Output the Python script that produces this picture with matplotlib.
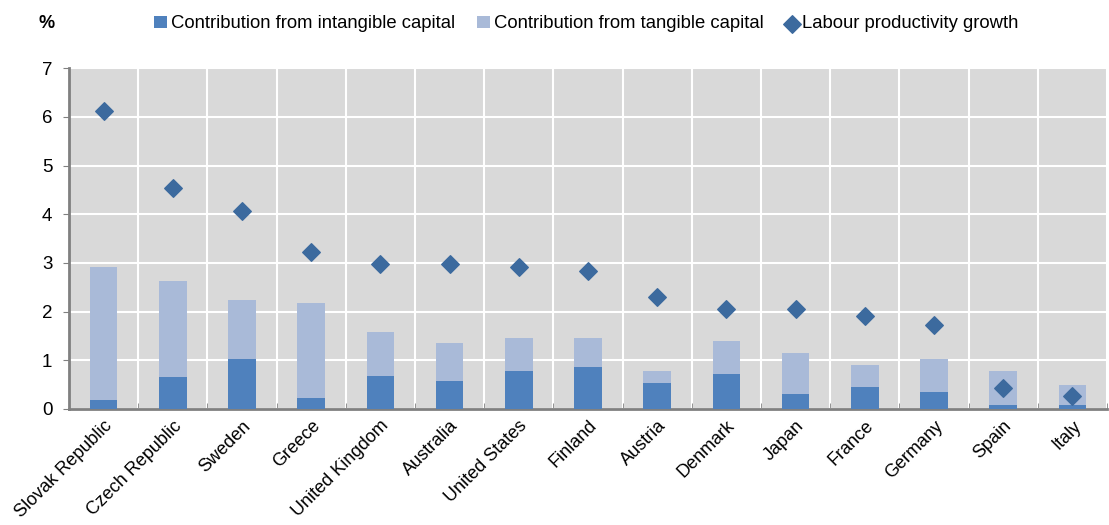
import matplotlib
matplotlib.use('Agg')
import matplotlib.pyplot as plt
import numpy as np

plt.rcParams['font.family'] = ['Liberation Sans', 'DejaVu Sans']

# Data
countries = ['Slovak Republic', 'Czech Republic', 'Sweden', 'Greece', 'United Kingdom',
             'Australia', 'United States', 'Finland', 'Austria', 'Denmark', 'Japan',
             'France', 'Germany', 'Spain', 'Italy']
intangible = [0.18, 0.65, 1.02, 0.22, 0.68, 0.57, 0.79, 0.87, 0.53, 0.71, 0.30, 0.46, 0.34, 0.09, 0.09]
tangible = [2.73, 1.98, 1.21, 1.95, 0.90, 0.78, 0.66, 0.59, 0.24, 0.69, 0.84, 0.44, 0.68, 0.68, 0.40]
productivity = [6.12, 4.55, 4.07, 3.23, 2.98, 2.98, 2.92, 2.83, 2.31, 2.05, 2.06, 1.92, 1.72, 0.43, 0.26]

cIntang = '#4F81BD'
cTang = '#A9BAD8'
cProd = '#3C6A9E'

fig = plt.figure(figsize=(11.09, 5.25), dpi=100)
ax = fig.add_axes([0.0622, 0.221, 0.936, 0.649])
ax.set_facecolor('#D9D9D9')

x = np.arange(len(countries))
b1 = ax.bar(x, intangible, width=0.4, color=cIntang, zorder=3,
            label='Contribution from intangible capital')
b2 = ax.bar(x, tangible, width=0.4, bottom=intangible, color=cTang, zorder=3,
            label='Contribution from tangible capital')
sc = ax.scatter(x, productivity, marker='D', s=80, color=cProd, zorder=4,
                label='Labour productivity growth')

ax.set_xlim(-0.5, len(countries) - 0.5)
ax.set_ylim(0, 7)
ax.set_yticks(range(0, 8))
ax.tick_params(axis='y', labelsize=13.5, length=4, color='#808080', pad=8)

# vertical gridlines at category boundaries
ax.set_xticks(x)
ax.set_xticklabels(countries, rotation=45, ha='right', rotation_mode='anchor', fontsize=13)
ax.tick_params(axis='x', length=0, pad=6)
ax.set_xticks(np.arange(-0.5, len(countries)), minor=True)
ax.tick_params(axis='x', which='minor', length=4, direction='in', color='#808080')
ax.grid(True, which='minor', axis='x', color='white', linewidth=1.5, zorder=1)
ax.grid(True, which='major', axis='y', color='white', linewidth=1.5, zorder=1)
ax.set_axisbelow(True)

for s in ['top', 'right']:
    ax.spines[s].set_visible(False)
for s in ['left', 'bottom']:
    ax.spines[s].set_color('#808080')
    ax.spines[s].set_linewidth(2)

fig.text(0.035, 0.955, '%', fontsize=13, fontweight='bold', ha='left', va='center')
ax.legend([b1, b2, sc], [b1.get_label(), b2.get_label(), sc.get_label()],
          loc='center left', bbox_to_anchor=(0.082, 1.13), ncol=3, frameon=False, fontsize=13.3,
          handlelength=0.7, handleheight=0.7, handletextpad=0.2, columnspacing=1.2,
          borderaxespad=0, borderpad=0)

fig.savefig('out.png', dpi=100)
